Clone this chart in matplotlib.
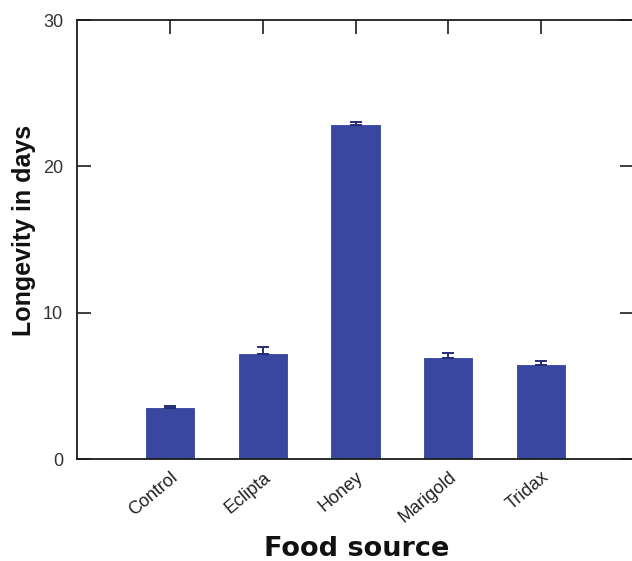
import matplotlib
matplotlib.use("Agg")
import matplotlib.pyplot as plt
import numpy as np

# Mean adult longevity (days) by food source, with standard errors
foods = ["Control", "Eclipta", "Honey", "Marigold", "Tridax"]
longevity = [3.5, 7.2, 22.8, 6.9, 6.4]
std_err = [0.15, 0.45, 0.25, 0.35, 0.3]
y_ticks = [0, 10, 20, 30]

bar_color = "#3a47a1"
err_color = "#262c78"
ink = "#1c1c1c"

W, H = 632, 561
fig = plt.figure(figsize=(W / 100, H / 100), dpi=100)
ax = fig.add_axes([77 / W, 1 - 459 / H, 557 / W, 439 / H])

x = np.arange(1, len(foods) + 1)
ax.bar(x, longevity, width=0.52, color=bar_color, edgecolor="#3440a0",
       linewidth=0.6, zorder=2)
ax.errorbar(x, longevity, yerr=[np.zeros(len(std_err)), std_err], fmt="none",
            ecolor=err_color, elinewidth=1.4, capsize=4, capthick=1.4, zorder=3)

ax.set_xlim(0, 6)
ax.set_ylim(0, 30)
ax.set_yticks(y_ticks)
ax.set_yticklabels([str(v) for v in y_ticks], fontsize=13,
                   family="Liberation Sans", color="#333333")
ax.set_xticks(x)
ax.set_xticklabels(foods, rotation=40, ha="right", rotation_mode="anchor",
                   fontsize=13, family="Liberation Sans", color="#222222")

for side in ["left", "right", "top", "bottom"]:
    ax.spines[side].set_linewidth(1.3)
    ax.spines[side].set_color(ink)

# y ticks inward on both sides; x ticks mirrored on top only
ax.tick_params(axis="y", which="both", direction="in", length=10, width=1.2,
               color=ink, left=True, right=True, pad=10)
ax.tick_params(axis="x", which="both", direction="in", length=10, width=1.2,
               color=ink, top=True, bottom=False, pad=7)

# Axis titles placed in figure pixels
fig.text(24 / W, 1 - 230 / H, "Longevity in days", rotation=90,
         ha="center", va="center", fontsize=18, fontweight="bold",
         family="Liberation Sans", color="#111111")
fig.text(357 / W, 1 - 549 / H, "Food source", ha="center", va="center",
         fontsize=19.5, fontweight="bold", family="DejaVu Sans",
         color="#111111")

fig.savefig("out.png", dpi=100)
